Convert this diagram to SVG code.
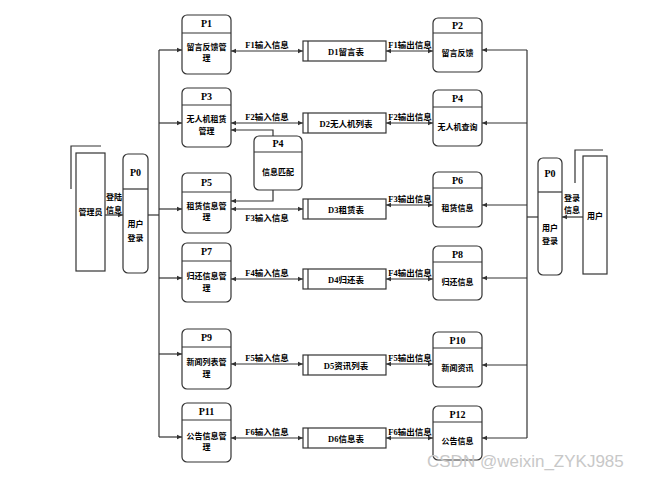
<svg xmlns="http://www.w3.org/2000/svg" width="656" height="480" viewBox="0 0 656 480">
<style>
.box{fill:#fff;stroke:#333;stroke-width:1.2}
.ln{fill:none;stroke:#333;stroke-width:1.2}
.t{font-family:"Liberation Serif","Noto Sans CJK SC",serif;font-weight:bold;font-size:10px;fill:#000;text-anchor:middle}
.c{font-family:"Noto Sans CJK SC","Liberation Sans",sans-serif;font-weight:bold;font-size:8px;fill:#000;text-anchor:middle}
.f{font-family:"Liberation Serif","Noto Sans CJK SC",serif;font-weight:bold;font-size:8.5px;fill:#000;text-anchor:middle}
.wm{font-family:"Liberation Sans",sans-serif;font-size:17px;fill:#c8c8c8}
</style>
<defs>
<marker id="ae" markerWidth="6" markerHeight="6" refX="5" refY="3" orient="auto" markerUnits="userSpaceOnUse"><path d="M0,0.8 L5,3 L0,5.2 z" fill="#333"/></marker>
<marker id="as" markerWidth="6" markerHeight="6" refX="0" refY="3" orient="auto" markerUnits="userSpaceOnUse"><path d="M5,0.8 L0,3 L5,5.2 z" fill="#333"/></marker>
</defs>

<g id="connectors">
<path class="ln" d="M159,50 V437"/>
<path class="ln" d="M148,215 H159"/>
<path class="ln" d="M159,50 H182" marker-end="url(#ae)"/>
<path class="ln" d="M159,123 H182" marker-end="url(#ae)"/>
<path class="ln" d="M159,209 H182" marker-end="url(#ae)"/>
<path class="ln" d="M159,278 H182" marker-end="url(#ae)"/>
<path class="ln" d="M159,354 H182" marker-end="url(#ae)"/>
<path class="ln" d="M159,437 H182" marker-end="url(#ae)"/>
<path class="ln" d="M105,215 H123" marker-end="url(#ae)"/>
<path class="ln" d="M527,50 V438"/>
<path class="ln" d="M538,217 H527"/>
<path class="ln" d="M527,50 H482" marker-end="url(#ae)"/>
<path class="ln" d="M527,123 H482" marker-end="url(#ae)"/>
<path class="ln" d="M527,205 H482" marker-end="url(#ae)"/>
<path class="ln" d="M527,278 H482" marker-end="url(#ae)"/>
<path class="ln" d="M527,365 H482" marker-end="url(#ae)"/>
<path class="ln" d="M527,438 H482" marker-end="url(#ae)"/>
<path class="ln" d="M583,217 H562" marker-end="url(#ae)"/>
<path class="ln" d="M231,51 H303" marker-start="url(#as)" marker-end="url(#ae)"/>
<path class="ln" d="M231,123 H303" marker-start="url(#as)" marker-end="url(#ae)"/>
<path class="ln" d="M231,209 H303" marker-start="url(#as)" marker-end="url(#ae)"/>
<path class="ln" d="M231,279 H303" marker-start="url(#as)" marker-end="url(#ae)"/>
<path class="ln" d="M231,364 H303" marker-start="url(#as)" marker-end="url(#ae)"/>
<path class="ln" d="M231,438 H303" marker-start="url(#as)" marker-end="url(#ae)"/>
<path class="ln" d="M386,51 H433" marker-start="url(#as)" marker-end="url(#ae)"/>
<path class="ln" d="M386,123 H433" marker-start="url(#as)" marker-end="url(#ae)"/>
<path class="ln" d="M386,205 H433" marker-start="url(#as)" marker-end="url(#ae)"/>
<path class="ln" d="M386,279 H433" marker-start="url(#as)" marker-end="url(#ae)"/>
<path class="ln" d="M386,364 H433" marker-start="url(#as)" marker-end="url(#ae)"/>
<path class="ln" d="M386,438 H433" marker-start="url(#as)" marker-end="url(#ae)"/>
<path class="ln" d="M273,136 V130 H231" marker-end="url(#ae)"/>
<path class="ln" d="M273,190 V201 H231" marker-end="url(#ae)"/>
<text class="f" x="267" y="48">F1输入信息</text>
<text class="f" x="267" y="120">F2输入信息</text>
<text class="f" x="267" y="221">F3输入信息</text>
<text class="f" x="267" y="276">F4输入信息</text>
<text class="f" x="267" y="361">F5输入信息</text>
<text class="f" x="267" y="435">F6输入信息</text>
<text class="f" x="410" y="48">F1输出信息</text>
<text class="f" x="410" y="120">F2输出信息</text>
<text class="f" x="410" y="202">F3输出信息</text>
<text class="f" x="410" y="276">F4输出信息</text>
<text class="f" x="410" y="361">F5输出信息</text>
<text class="f" x="410" y="435">F6输出信息</text>
<text class="c" x="114" y="200">登陆</text>
<text class="c" x="114" y="213">信息</text>
<text class="c" x="572" y="201">登录</text>
<text class="c" x="572" y="213">信息</text>
</g>

<g id="admin">
<path class="ln" d="M71,189 V146 H101"/>
<rect class="box" x="76" y="153" width="29" height="118"/>
<text class="c" x="90.5" y="215">管理员</text>
</g>
<g id="user">
<path class="ln" d="M575,183 V150 H603"/>
<rect class="box" x="583" y="156" width="24" height="118"/>
<text class="c" x="595" y="219">用户</text>
</g>

<g id="P0-left">
<rect class="box" x="123" y="154" width="25" height="119" rx="5"/>
<path class="ln" d="M123,189 H148"/>
<text class="t" x="135.5" y="176">P0</text>
<text class="c" x="135.5" y="227">用户</text>
<text class="c" x="135.5" y="241">登录</text>
</g>
<g id="P0-right">
<rect class="box" x="538" y="158" width="24" height="117" rx="5"/>
<path class="ln" d="M538,192 H562"/>
<text class="t" x="550" y="177">P0</text>
<text class="c" x="550" y="231">用户</text>
<text class="c" x="550" y="244">登录</text>
</g>

<g id="P1">
<rect class="box" x="182" y="15" width="49" height="59" rx="5"/>
<path class="ln" d="M182,33 H231"/>
<text class="t" x="206.5" y="27">P1</text>
<text class="c" x="206.5" y="50">留言反馈管</text>
<text class="c" x="206.5" y="61">理</text>
</g>
<g id="P3">
<rect class="box" x="182" y="88" width="49" height="59" rx="5"/>
<path class="ln" d="M182,105 H231"/>
<text class="t" x="206.5" y="100">P3</text>
<text class="c" x="206.5" y="122">无人机租赁</text>
<text class="c" x="206.5" y="134">管理</text>
</g>
<g id="P5">
<rect class="box" x="182" y="173" width="49" height="60" rx="5"/>
<path class="ln" d="M182,192 H231"/>
<text class="t" x="206.5" y="186">P5</text>
<text class="c" x="206.5" y="209">租赁信息管</text>
<text class="c" x="206.5" y="220">理</text>
</g>
<g id="P7">
<rect class="box" x="182" y="243" width="49" height="59" rx="5"/>
<path class="ln" d="M182,261 H231"/>
<text class="t" x="206.5" y="255">P7</text>
<text class="c" x="206.5" y="279">归还信息管</text>
<text class="c" x="206.5" y="291">理</text>
</g>
<g id="P9">
<rect class="box" x="182" y="329" width="49" height="60" rx="5"/>
<path class="ln" d="M182,347 H231"/>
<text class="t" x="206.5" y="341">P9</text>
<text class="c" x="206.5" y="365">新闻列表管</text>
<text class="c" x="206.5" y="377">理</text>
</g>
<g id="P11">
<rect class="box" x="182" y="403" width="49" height="59" rx="5"/>
<path class="ln" d="M182,420 H231"/>
<text class="t" x="206.5" y="415">P11</text>
<text class="c" x="206.5" y="439">公告信息管</text>
<text class="c" x="206.5" y="450">理</text>
</g>

<g id="P4-mid">
<rect class="box" x="254" y="136" width="48" height="54" rx="5"/>
<path class="ln" d="M254,152 H302"/>
<text class="t" x="278" y="147">P4</text>
<text class="c" x="278" y="175">信息匹配</text>
</g>

<g id="P2">
<rect class="box" x="433" y="18" width="49" height="54" rx="5"/>
<path class="ln" d="M433,33 H482"/>
<text class="t" x="457.5" y="29">P2</text>
<text class="c" x="457.5" y="56">留言反馈</text>
</g>
<g id="P4">
<rect class="box" x="433" y="90" width="49" height="56" rx="5"/>
<path class="ln" d="M433,107 H482"/>
<text class="t" x="457.5" y="102">P4</text>
<text class="c" x="457.5" y="130">无人机查询</text>
</g>
<g id="P6">
<rect class="box" x="433" y="172" width="49" height="55" rx="5"/>
<path class="ln" d="M433,188 H482"/>
<text class="t" x="457.5" y="184">P6</text>
<text class="c" x="457.5" y="211">租赁信息</text>
</g>
<g id="P8">
<rect class="box" x="433" y="246" width="49" height="54" rx="5"/>
<path class="ln" d="M433,262 H482"/>
<text class="t" x="457.5" y="258">P8</text>
<text class="c" x="457.5" y="285">归还信息</text>
</g>
<g id="P10">
<rect class="box" x="433" y="332" width="49" height="55" rx="5"/>
<path class="ln" d="M433,348 H482"/>
<text class="t" x="457.5" y="344">P10</text>
<text class="c" x="457.5" y="371">新闻资讯</text>
</g>
<g id="P12">
<rect class="box" x="433" y="406" width="49" height="54" rx="5"/>
<path class="ln" d="M433,422 H482"/>
<text class="t" x="457.5" y="418">P12</text>
<text class="c" x="457.5" y="444">公告信息</text>
</g>

<g id="D1">
<rect class="box" x="303" y="41" width="83" height="20"/>
<path class="ln" d="M308,41 V61"/>
<text class="f" x="346" y="54.5">D1留言表</text>
</g>
<g id="D2">
<rect class="box" x="303" y="113" width="83" height="20"/>
<path class="ln" d="M308,113 V133"/>
<text class="f" x="346" y="126.5">D2无人机列表</text>
</g>
<g id="D3">
<rect class="box" x="303" y="199" width="83" height="20"/>
<path class="ln" d="M308,199 V219"/>
<text class="f" x="346" y="212.5">D3租赁表</text>
</g>
<g id="D4">
<rect class="box" x="303" y="269" width="83" height="20"/>
<path class="ln" d="M308,269 V289"/>
<text class="f" x="346" y="282.5">D4归还表</text>
</g>
<g id="D5">
<rect class="box" x="303" y="355" width="83" height="20"/>
<path class="ln" d="M308,355 V375"/>
<text class="f" x="346" y="368.5">D5资讯列表</text>
</g>
<g id="D6">
<rect class="box" x="303" y="428" width="83" height="20"/>
<path class="ln" d="M308,428 V448"/>
<text class="f" x="346" y="441.5">D6信息表</text>
</g>

<text class="wm" x="427" y="467">CSDN @weixin_ZYKJ985</text>
</svg>
